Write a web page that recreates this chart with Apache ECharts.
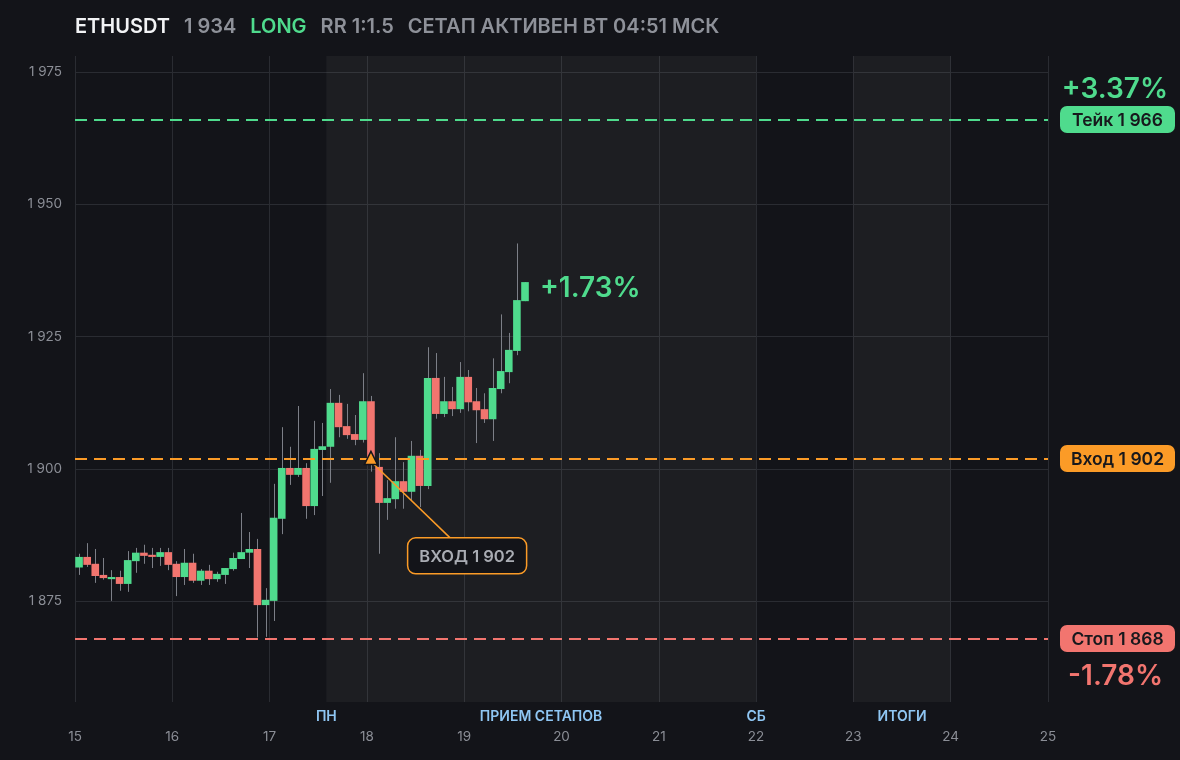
<!DOCTYPE html>
<html><head><meta charset="utf-8">
<script src="https://cdn.jsdelivr.net/npm/echarts@6/dist/echarts.min.js"></script>
<style>html,body{margin:0;padding:0;background:#131419}#c{width:1180px;height:760px}</style>
</head><body><div id="c"></div>
<script>
// ---- header ----
const symbol = 'ETHUSDT';
const lastPrice = 1934;
const side = 'LONG';
const rrText = 'RR 1:1.5';
const statusText = 'СЕТАП АКТИВЕН ВТ 04:51 МСК';

// ---- candles (2h each, starting day 15) ----
const firstDay = 15;
const candleHours = 2;
const opens  = [1881.4,1883.4,1882.1,1880.0,1879.2,1879.6,1878.3,1882.6,1884.2,1883.8,1883.4,1884.3,1882.1,1879.6,1882.3,1878.9,1880.8,1879.2,1880.0,1881.1,1883.0,1884.2,1884.9,1874.3,1875.1,1890.6,1900.2,1898.9,1900.2,1893.0,1903.6,1904.2,1912.5,1908.1,1906.6,1905.5,1912.8,1900.4,1893.6,1894.3,1897.7,1895.7,1902.5,1896.8,1917.2,1910.4,1912.8,1911.3,1917.4,1912.8,1911.3,1909.4,1915.1,1918.3,1922.3,1931.7];
const highs  = [1884.0,1886.0,1884.9,1883.2,1880.9,1880.8,1884.5,1885.1,1885.7,1885.1,1885.1,1885.1,1882.6,1884.9,1884.0,1881.1,1881.9,1880.6,1881.3,1884.2,1891.7,1888.1,1886.8,1877.5,1897.2,1907.9,1904.2,1911.9,1901.1,1909.1,1908.7,1915.1,1914.0,1912.3,1910.2,1918.1,1913.8,1903.0,1897.9,1906.0,1901.3,1905.3,1903.6,1923.0,1921.9,1917.4,1915.5,1920.2,1918.7,1915.3,1914.3,1920.9,1929.2,1925.7,1942.6,1935.3];
const lows   = [1880.0,1881.5,1878.5,1879.1,1875.1,1877.0,1876.8,1880.4,1882.1,1881.3,1881.7,1880.9,1876.0,1878.1,1878.5,1878.1,1878.1,1878.7,1878.3,1880.8,1883.0,1881.3,1868.2,1868.3,1871.3,1887.7,1897.0,1898.5,1890.6,1891.3,1894.9,1897.4,1906.0,1905.7,1904.5,1905.0,1899.5,1884.0,1890.4,1892.5,1892.5,1894.0,1892.8,1896.2,1909.5,1909.8,1910.0,1910.6,1910.9,1904.9,1908.7,1905.3,1914.3,1916.2,1921.5,1931.7];
const closes = [1883.4,1881.9,1879.8,1879.4,1879.6,1878.3,1882.8,1884.2,1883.6,1883.4,1884.3,1881.9,1879.6,1882.3,1878.9,1880.8,1879.2,1880.2,1881.3,1883.2,1884.3,1884.9,1874.3,1875.3,1890.8,1900.2,1898.9,1900.2,1893.0,1903.8,1904.3,1912.5,1907.9,1906.4,1905.5,1912.8,1901.5,1893.6,1894.5,1897.7,1895.7,1902.5,1896.8,1917.2,1910.4,1912.8,1911.3,1917.4,1912.6,1911.1,1909.4,1915.3,1918.5,1922.5,1931.9,1935.3];

// ---- axes ----
const xDays = [15, 25];
const yTicks = [1875, 1900, 1925, 1950, 1975];
const yRange = [1856, 1978];

// ---- levels ----
const levelNames  = ['Тейк', 'Вход', 'Стоп'];
const levelPrices = [1966, 1902, 1868];
const levelPcts   = ['+3.37%', '', '-1.78%'];

// ---- session bands ----
const bandStarts = [17.583, 23];
const bandEnds   = [22, 24];
const bandLabelDays  = [17.583, 19.79, 22, 23.5];
const bandLabelTexts = ['ПН', 'ПРИЕМ СЕТАПОВ', 'СБ', 'ИТОГИ'];

// ---- entry annotation ----
const entryIndex = 36;
const entryPrice = 1902;
const entryText = 'ВХОД 1 902';
const entryBoxAt = [19.03, 1883.6];
const currentPct = '+1.73%';

const GREEN = '#4fdb8d', RED = '#f2756f', ORANGE = '#fb9b27';
const levelColors = [GREEN, ORANGE, RED];
const FONT = 'Inter, "Noto Sans", sans-serif';

function fmt(v) { return String(v).replace(/\B(?=(\d{3})+(?!\d))/g, ' '); }
function candleTime(i) { return firstDay + (i * candleHours + candleHours / 2) / 24; }

const candleData = opens.map((o, i) => [candleTime(i), o, closes[i], lows[i], highs[i]]);

const chart = echarts.init(document.getElementById('c'), null, { renderer: 'canvas' });

const hdr = { fontSize: 20, fontWeight: 600, fontFamily: FONT, padding: [0, 14, 0, 0] };
const option = {
  backgroundColor: '#131419',
  animation: false,
  title: {
    left: 75, top: 17, padding: 0,
    text: '{a|' + symbol + '}{b|' + fmt(lastPrice) + '}{c|' + side + '}{b|' + rrText + '}{b|' + statusText + '}',
    textStyle: {
      rich: {
        a: Object.assign({ color: '#f2f3f5' }, hdr),
        b: Object.assign({ color: '#8e9199' }, hdr),
        c: Object.assign({ color: GREEN }, hdr)
      }
    }
  },
  grid: { left: 75, right: 132, top: 56, bottom: 58 },
  xAxis: [{
    type: 'value', min: xDays[0], max: xDays[1], interval: 1,
    axisLine: { show: false }, axisTick: { show: false },
    splitLine: { show: true, lineStyle: { color: '#2a2c32', width: 1 } },
    axisLabel: { color: '#8b8e96', fontSize: 13.5, fontFamily: FONT, margin: 28 }
  }, {
    type: 'value', min: xDays[0], max: xDays[1], position: 'bottom',
    axisLine: { show: false }, axisTick: { show: false }, splitLine: { show: false },
    axisLabel: {
      customValues: bandLabelDays,
      color: '#8fc6f3', fontSize: 14, fontWeight: 600, fontFamily: FONT, margin: 8,
      formatter: function (v) {
        let best = 0;
        bandLabelDays.forEach((d, i) => { if (Math.abs(d - v) < Math.abs(bandLabelDays[best] - v)) best = i; });
        return bandLabelTexts[best];
      }
    }
  }],
  yAxis: {
    type: 'value', min: yRange[0], max: yRange[1], scale: true,
    axisLine: { show: false },
    axisTick: { show: false, customValues: yTicks },
    splitLine: { show: true, lineStyle: { color: '#2a2c32', width: 1 } },
    axisLabel: { customValues: yTicks, color: '#8b8e96', fontSize: 13.5, fontFamily: FONT, margin: 13, formatter: fmt }
  },
  series: [{
    name: 'bands', type: 'custom', xAxisIndex: 0, data: [],
    renderItem: function () { return null; },
    markArea: {
      silent: true,
      itemStyle: { color: 'rgba(255,255,255,0.045)' },
      data: bandStarts.map((s, i) => [{ xAxis: s }, { xAxis: bandEnds[i] }])
    }
  }, {
    name: 'candles', type: 'custom', xAxisIndex: 0,
    data: candleData,
    encode: { x: 0, y: [1, 2, 3, 4] },
    renderItem: function (params, api) {
      const x = api.value(0), o = api.value(1), c = api.value(2), l = api.value(3), h = api.value(4);
      const pO = api.coord([x, o]), pC = api.coord([x, c]), pL = api.coord([x, l]), pH = api.coord([x, h]);
      const w = api.size([candleHours / 24, 0])[0] * 0.94;
      const up = c >= o;
      const xc = Math.round(pO[0]) + 0.5;
      const top = Math.min(pO[1], pC[1]);
      return {
        type: 'group', children: [
          { type: 'line', shape: { x1: xc, y1: pH[1], x2: xc, y2: pL[1] }, style: { stroke: '#7c7f87', lineWidth: 1 } },
          { type: 'rect', shape: { x: pO[0] - w / 2, y: top, width: w, height: Math.max(Math.abs(pO[1] - pC[1]), 1.5) }, style: { fill: up ? GREEN : RED } }
        ]
      };
    },
    markLine: {
      silent: true, symbol: ['none', 'none'], label: { show: false },
      lineStyle: { type: [12, 7], width: 2 },
      data: levelPrices.map((p, i) => ({ yAxis: p, lineStyle: { color: levelColors[i], type: [12, 7], width: 2 } }))
    },
    z: 3
  }, {
    name: 'levels', type: 'custom', xAxisIndex: 0,
    data: levelPrices.map((p, i) => [xDays[1], p, i]),
    renderItem: function (params, api) {
      const i = params.dataIndex;
      const p = api.coord([api.value(0), api.value(1)]);
      const w = 115, h = 27, x0 = p[0] + 12;
      const children = [
        { type: 'rect', shape: { x: x0, y: p[1] - h / 2, width: w, height: h, r: 7 }, style: { fill: levelColors[i] } },
        { type: 'text', style: { text: levelNames[i] + ' ' + fmt(levelPrices[i]), x: x0 + w / 2, y: p[1] + 1, align: 'center', verticalAlign: 'middle', fill: '#17181c', font: '600 17.5px ' + FONT } }
      ];
      if (levelPcts[i]) {
        const above = levelPrices[i] > entryPrice;
        children.push({ type: 'text', style: { text: levelPcts[i], x: x0 + w - (above ? 7 : 12), y: p[1] + (above ? -30 : 38), align: 'right', verticalAlign: 'middle', fill: levelColors[i], font: '600 28px ' + FONT } });
      }
      return { type: 'group', children: children };
    },
    z: 5
  }, {
    name: 'entry', type: 'custom', xAxisIndex: 0,
    data: [[candleTime(entryIndex), entryPrice]],
    renderItem: function (params, api) {
      const pE = api.coord([api.value(0), api.value(1)]);
      const pB = api.coord(entryBoxAt);
      const bw = 119, bh = 36;
      const pN = api.coord([candleTime(closes.length - 1), lastPrice]);
      return {
        type: 'group', children: [
          { type: 'line', shape: { x1: pE[0], y1: pE[1] + 3, x2: pB[0] - 17, y2: pB[1] - bh / 2 }, style: { stroke: ORANGE, lineWidth: 1.5 } },
          { type: 'polygon', shape: { points: [[pE[0], pE[1] - 7], [pE[0] - 6.5, pE[1] + 6], [pE[0] + 6.5, pE[1] + 6]] }, style: { fill: ORANGE, stroke: '#131419', lineWidth: 1.5 } },
          { type: 'rect', shape: { x: pB[0] - bw / 2, y: pB[1] - bh / 2, width: bw, height: bh, r: 8 }, style: { fill: '#131419', stroke: ORANGE, lineWidth: 1.5 } },
          { type: 'text', style: { text: entryText, x: pB[0], y: pB[1] + 1, align: 'center', verticalAlign: 'middle', fill: '#a9acb3', font: '600 16.5px ' + FONT } },
          { type: 'text', style: { text: currentPct, x: pN[0] + 15, y: pN[1], align: 'left', verticalAlign: 'middle', fill: GREEN, font: '600 28px ' + FONT } }
        ]
      };
    },
    z: 6
  }]
};
chart.setOption(option);
</script></body></html>
